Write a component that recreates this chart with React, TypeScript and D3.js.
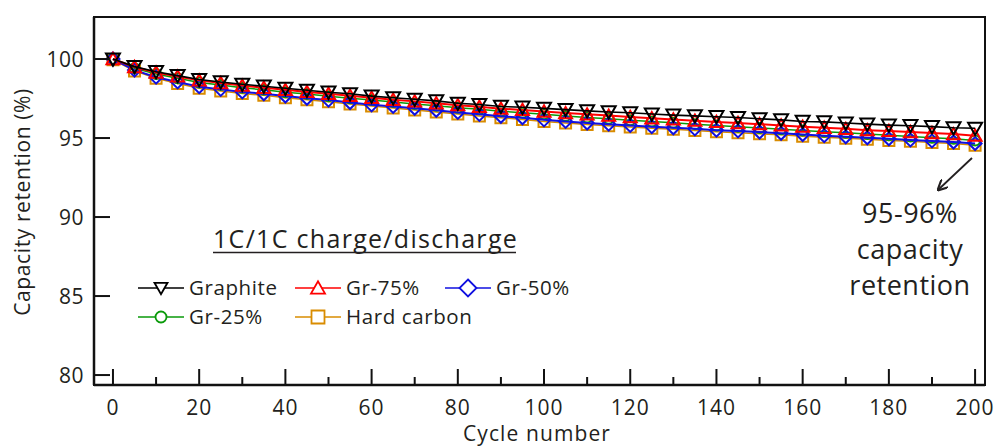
import React from "react";
import * as d3 from "d3";

const cycles = [0,5,10,15,20,25,30,35,40,45,50,55,60,65,70,75,80,85,90,95,100,105,110,115,120,125,130,135,140,145,150,155,160,165,170,175,180,185,190,195,200];

const graphite = [100.0,99.52,99.2,98.95,98.7,98.55,98.4,98.28,98.15,98.02,97.9,97.8,97.65,97.55,97.45,97.35,97.2,97.12,97.0,96.95,96.88,96.8,96.72,96.65,96.6,96.52,96.45,96.4,96.35,96.3,96.22,96.15,96.05,96.02,95.95,95.88,95.82,95.78,95.72,95.65,95.62];
const gr75 = [100.0,99.5,99.15,98.9,98.65,98.48,98.32,98.18,98.05,97.92,97.8,97.68,97.55,97.42,97.32,97.2,97.08,96.98,96.86,96.78,96.68,96.58,96.5,96.42,96.33,96.25,96.18,96.1,96.02,95.95,95.88,95.8,95.72,95.65,95.58,95.5,95.45,95.38,95.32,95.25,95.15];
const gr50 = [100.0,99.3,98.85,98.55,98.25,98.08,97.92,97.8,97.66,97.52,97.4,97.25,97.1,97.0,96.88,96.76,96.62,96.5,96.38,96.28,96.15,96.05,95.95,95.88,95.8,95.72,95.65,95.58,95.5,95.45,95.38,95.3,95.22,95.15,95.08,95.02,94.95,94.88,94.82,94.75,94.65];
const gr25 = [100.0,99.42,99.05,98.78,98.52,98.35,98.18,98.05,97.9,97.78,97.65,97.52,97.4,97.28,97.15,97.05,96.92,96.82,96.7,96.6,96.5,96.4,96.3,96.22,96.12,96.05,95.96,95.88,95.8,95.72,95.64,95.56,95.48,95.4,95.33,95.25,95.18,95.1,95.02,94.95,94.85];
const hardCarbon = [99.95,99.25,98.78,98.45,98.15,97.98,97.82,97.7,97.55,97.42,97.3,97.15,97.02,96.9,96.78,96.65,96.52,96.4,96.28,96.18,96.05,95.95,95.85,95.77,95.7,95.62,95.55,95.47,95.4,95.34,95.27,95.2,95.12,95.05,94.98,94.92,94.85,94.79,94.72,94.66,94.55];

const xTicks = [0,20,40,60,80,100,120,140,160,180,200];
const xMinorTicks = [10,30,50,70,90,110,130,150,170,190];
const yTicks = [80,85,90,95,100];

const seriesNames = ["Graphite","Gr-75%","Gr-50%","Gr-25%","Hard carbon"];
const legendTitle = "1C/1C charge/discharge";
const annotationLines = ["95-96%","capacity","retention"];

const FONT = "'Open Sans', 'DejaVu Sans', sans-serif";
const TXT = "#231f20";

type Shape = "tdown" | "tup" | "diamond" | "circle" | "square";

function markerPath(shape: Shape, s: number): string {
  const h = s / 2;
  switch (shape) {
    case "tdown":
      return `M${-h},${-h * 0.8}L${h},${-h * 0.8}L0,${h * 0.95}Z`;
    case "tup":
      return `M${-h},${h * 0.8}L${h},${h * 0.8}L0,${-h * 0.95}Z`;
    case "diamond":
      return `M0,${-h}L${h},0L0,${h}L${-h},0Z`;
    case "circle":
      return `M${h},0A${h},${h} 0 1,1 ${-h},0A${h},${h} 0 1,1 ${h},0Z`;
    case "square":
      return `M${-h},${-h}L${h},${-h}L${h},${h}L${-h},${h}Z`;
  }
}

export default function App() {
  const W = 999, H = 448;
  const left = 94, right = 985, top = 17, bottom = 385;
  const x = d3.scaleLinear().domain([-4.4, 202.3]).range([left, right]);
  const y = d3.scaleLinear().domain([79.37, 102.66]).range([bottom, top]);

  const series = [
    { name: seriesNames[4], values: hardCarbon, color: "#d98c00", shape: "square" as Shape, size: 11, lsize: 13, lw: 1.5 },
    { name: seriesNames[3], values: gr25, color: "#0a9a0a", shape: "circle" as Shape, size: 10, lsize: 11, lw: 1.5 },
    { name: seriesNames[2], values: gr50, color: "#1010e0", shape: "diamond" as Shape, size: 13, lsize: 17, lw: 2 },
    { name: seriesNames[1], values: gr75, color: "#ff0000", shape: "tup" as Shape, size: 13, lsize: 14, lw: 2 },
    { name: seriesNames[0], values: graphite, color: "#000000", shape: "tdown" as Shape, size: 14, lsize: 13, lw: 1.6 },
  ];

  const line = d3.line<number>().x((_, i) => x(cycles[i])).y((d) => y(d));

  const legendItems = [
    { s: series[4], lx: 138, ly: 288 },
    { s: series[3], lx: 295, ly: 288 },
    { s: series[2], lx: 445, ly: 288 },
    { s: series[1], lx: 138, ly: 317 },
    { s: series[0], lx: 295, ly: 317 },
  ];

  return (
    <svg width={W} height={H} style={{ position: "absolute", left: 0, top: 0, background: "#fff" }} fontFamily={FONT}>
      <rect x={0} y={0} width={W} height={H} fill="#fff" />
      {/* data */}
      {series.map((s) => (
        <g key={s.name}>
          <path d={line(s.values) || ""} fill="none" stroke={s.color} strokeWidth={s.lw} />
          {s.values.map((v, i) => (
            <path
              key={i}
              d={markerPath(s.shape, s.size)}
              transform={`translate(${x(cycles[i])},${y(v)})`}
              fill="none"
              stroke={s.color}
              strokeWidth={2}
            />
          ))}
        </g>
      ))}
      {/* frame */}
      <rect x={left} y={top} width={right - left} height={bottom - top} fill="none" stroke="#111" strokeWidth={2} />
      <line x1={left} x2={left} y1={top} y2={bottom} stroke="#111" strokeWidth={2.5} />
      <line x1={left} x2={right} y1={bottom} y2={bottom} stroke="#111" strokeWidth={2.5} />
      {/* x ticks */}
      {xTicks.map((t) => (
        <g key={"xt" + t}>
          <line x1={x(t)} x2={x(t)} y1={bottom} y2={bottom - 16} stroke="#111" strokeWidth={2} />
          <text x={x(t)} y={415} textAnchor="middle" fontSize={21} letterSpacing={1} fill={TXT}>{t}</text>
        </g>
      ))}
      {xMinorTicks.map((t) => (
        <line key={"xm" + t} x1={x(t)} x2={x(t)} y1={bottom} y2={bottom - 8} stroke="#111" strokeWidth={2} />
      ))}
      {/* y ticks */}
      {yTicks.map((t) => (
        <g key={"yt" + t}>
          <line x1={left} x2={left + 16} y1={y(t)} y2={y(t)} stroke="#111" strokeWidth={2} />
          <text x={84} y={y(t) + 7.5} textAnchor="end" fontSize={21} letterSpacing={0.5} fill={TXT}>{t}</text>
        </g>
      ))}
      {/* axis labels */}
      <text x={537} y={441} textAnchor="middle" fontSize={21} letterSpacing={1.1} fill={TXT}>Cycle number</text>
      <text transform={`translate(30,202) rotate(-90)`} textAnchor="middle" fontSize={21} letterSpacing={0.6} fill={TXT}>Capacity retention (%)</text>
      {/* legend */}
      <text x={213} y={248} fontSize={25} letterSpacing={1.3} fill={TXT}>{legendTitle}</text>
      <line x1={213} x2={516} y1={252.5} y2={252.5} stroke={TXT} strokeWidth={1.5} />
      {legendItems.map(({ s, lx, ly }) => (
        <g key={"lg" + s.name}>
          <line x1={lx} x2={lx + 46} y1={ly} y2={ly} stroke={s.color} strokeWidth={1.6} />
          <path d={markerPath(s.shape, s.lsize)} transform={`translate(${lx + 23},${ly})`} fill="#fff" stroke={s.color} strokeWidth={1.8} />
          <text x={lx + 51} y={ly + 7} fontSize={20.5} letterSpacing={0.6} fill={TXT}>{s.name}</text>
        </g>
      ))}
      {/* annotation */}
      <defs>
        <marker id="ah" viewBox="0 0 10 10" refX="8" refY="5" markerWidth="6" markerHeight="6" orient="auto">
          <path d="M0,0L10,5L0,10" fill="none" stroke={TXT} strokeWidth={2} />
        </marker>
      </defs>
      <line x1={972} y1={158} x2={939} y2={189} stroke={TXT} strokeWidth={1.8} markerEnd="url(#ah)" />
      {annotationLines.map((t, i) => (
        <text key={t} x={910} y={223 + i * 36} textAnchor="middle" fontSize={27} letterSpacing={0.5} fill={TXT}>{t}</text>
      ))}
    </svg>
  );
}
